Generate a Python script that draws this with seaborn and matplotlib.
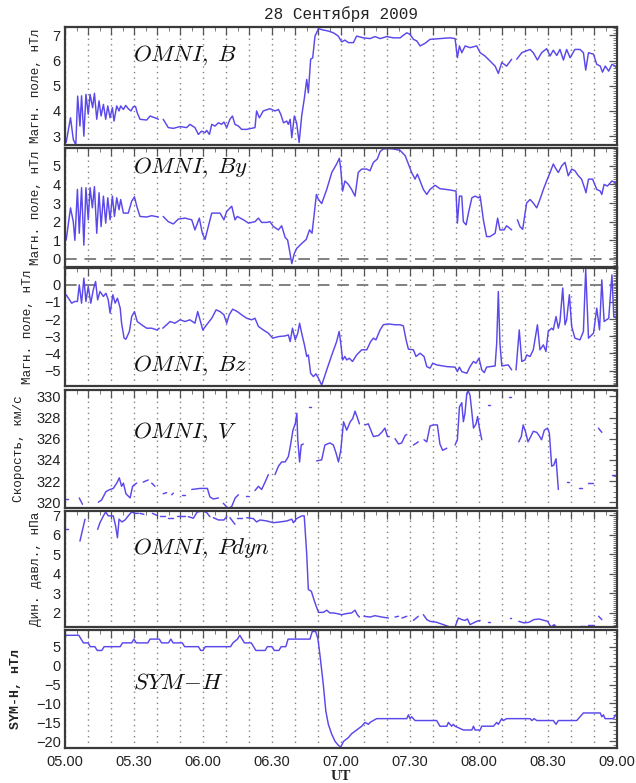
import numpy as np
import pandas as pd
import matplotlib
matplotlib.use("Agg")
import matplotlib.pyplot as plt
import seaborn as sns
from matplotlib.ticker import MultipleLocator, FuncFormatter

# ---------------- data (time in minutes after 05:00 UT; None = data gap) ----------------
b_data = [(0.5,2.75),(2.4,3.73),(3.6,2.87),(4.7,2.65),(5.5,4.59),(6.5,3.4),(7.2,4.6),(8.2,3.0),(9.1,4.66),(10.1,3.87),
          (10.9,4.66),(12.0,4.13),(12.8,4.7),(13.8,3.67),(14.8,4.4),(15.7,3.8),(16.7,4.26),(17.7,3.67),(18.6,4.2),(19.6,3.73),
          (20.6,4.13),(21.3,3.6),(22.5,4.2),(23.5,4.0),(24.2,4.2),(25.4,4.06),(26.4,4.22),(27.5,4.09),(28.7,4.0),(29.7,4.17),
          (30.7,4.17),(31.4,3.93),(32.6,3.67),(35.5,3.64),(37.0,3.8),(39.9,3.7),(40.6,3.67), None,
          (42.7,3.67),(44.9,3.34),(47.1,3.31),(50.0,3.38),(52.9,3.34),(54.3,3.47),(56.5,3.34),(58.0,3.07),(59.4,3.2),(60.9,3.14),
          (61.6,3.23),(62.8,3.07),(63.8,3.47),(65.2,3.4),(66.7,3.53),(68.1,3.47),(69.1,3.56),(70.3,3.34),(71.7,3.67),(72.8,3.8),
          (73.9,3.47),(75.4,3.4),(76.8,3.27),(79.0,3.27),(82.6,3.34),(83.3,4.0),(84.5,3.73),(86.2,4.0),(89.1,4.09),(91.3,4.0),
          (92.8,4.06),(93.8,3.87),(95.0,3.53),(96.4,3.6),(97.1,3.47),(97.9,3.67),(98.6,2.94),(99.7,3.8),(100.7,3.53),(101.8,2.75),
          (102.9,3.8),(104.0,4.46),(105.1,5.25),(105.8,4.72),(106.8,6.05),(107.7,6.11),(108.7,6.97),(110.2,7.26),(112.3,7.21),
          (114.5,7.17),(116.7,7.1),(118.8,6.97),(120.3,6.74),(121.7,6.81),(123.2,6.71),(125.4,6.71),(126.8,6.97),(129.7,6.9),
          (132.6,6.87),(134.8,6.95),(137.0,6.87),(139.9,6.95),(142.8,6.9),(145.7,6.9),(147.1,7.0),(148.6,7.1),(150.0,7.04),
          (151.5,6.84),(152.9,6.78),(154.4,6.58),(156.5,6.68),(158.7,6.84),(163.0,6.87),(167.4,6.9),(169.6,6.87),(170.6,6.11),
          (171.5,6.58),(172.5,6.31),(174.0,6.58),(176.1,6.51),(179.0,6.58),(180.5,6.31),(182.6,6.18),(184.8,5.98),(187.0,5.78),
          (188.4,5.49),(189.9,5.92),(192.0,5.78),(194.2,6.05), None,
          (196.4,6.05),(198.6,6.31),(202.2,6.44),(203.6,6.31),(205.4,6.02),(207.2,6.31),(209.4,6.47),(210.9,6.18),(212.3,6.41),
          (213.8,6.2),(215.2,6.44),(216.7,6.02),(218.1,6.44),(219.6,6.11),(221.7,6.44),(223.9,6.44),(225.4,6.31),(226.4,5.62),
          (227.6,6.31),(229.8,6.25),(231.2,5.85),(232.7,5.78),(233.7,5.54),(234.9,5.78),(236.4,5.58),(237.8,5.85),(239.3,5.78),
          (240.0,5.65)]

by_data = [(0.5,1.01),(2.4,2.74),(3.6,2.0),(4.3,1.0),(5.4,3.73),(6.2,1.38),(7.2,3.82),(8.2,0.74),(9.1,3.82),(10.1,2.1),
           (10.9,3.82),(11.9,2.74),(12.8,3.88),(13.8,1.38),(14.8,3.55),(15.7,1.74),(16.7,3.37),(17.7,1.92),(18.6,3.28),(19.6,2.1),
           (20.6,3.37),(21.5,2.28),(22.5,3.28),(23.5,2.64),(24.2,3.19),(25.4,2.46),(27.5,2.46),(29.0,3.1),(30.2,3.33),(31.2,2.83),
           (32.6,2.28),(35.5,2.25),(37.7,2.32),(40.6,2.25), None,
           (42.7,2.28),(44.9,2.0),(47.1,1.88),(49.3,2.14),(52.2,2.19),(55.1,2.1),(56.5,1.56),(58.4,2.19),(59.7,1.38),(60.9,1.05),
           (62.3,1.74),(63.8,2.46),(67.4,2.46),(69.1,2.1),(70.3,2.55),(72.5,2.83),(73.9,2.1),(74.9,2.28),(77.6,2.1),(79.8,1.92),
           (82.6,2.0),(84.1,2.19),(85.5,1.96),(87.7,1.96),(89.1,2.0),(90.6,1.74),(92.8,1.56),(94.2,1.78),(95.7,1.16),(96.8,1.01),
           (97.6,0.47),(98.6,-0.25),(99.7,0.29),(100.7,0.56),(102.9,0.83),(104.9,1.05),(106.3,1.56),(107.4,1.38),(108.4,2.46),
           (109.3,3.46),(110.2,3.19),(111.6,2.97),(113.8,3.73),(116.0,4.64),(118.1,5.09),(119.3,5.4),(119.9,4.82),(120.7,3.64),
           (121.7,4.18),(123.2,4.0),(124.6,3.73),(126.1,3.37),(127.5,4.64),(129.0,4.82),(131.2,4.82),(132.6,4.73),(134.1,5.18),
           (135.8,5.36),(137.0,5.76),(138.4,5.9),(140.6,5.92),(142.8,5.9),(145.7,5.82),(147.9,5.54),(149.3,5.09),(150.7,4.64),
           (152.2,4.28),(153.2,4.55),(154.4,4.18),(155.8,3.73),(157.3,3.46),(158.7,3.73),(160.9,3.95),(163.0,3.77),(167.4,3.7),
           (170.0,3.64),(170.6,1.92),(171.5,3.37),(172.5,3.37),(173.2,2.0),(174.4,1.83),(175.4,2.46),(176.9,3.28),(178.3,3.37),
           (179.8,3.28),(180.5,3.37),(181.9,2.1),(183.3,1.2),(184.8,1.2),(187.0,1.38),(188.1,2.19),(189.1,1.56),(190.9,1.56),
           (192.0,1.78),(194.2,1.56), None,
           (196.7,2.1),(197.8,1.74),(199.0,1.59),(200.7,3.0),(202.2,3.19),(203.6,3.0),(205.1,2.74),(206.5,3.19),(208.0,3.73),
           (209.4,4.18),(210.9,4.64),(212.3,5.09),(213.5,4.82),(214.5,4.64),(216.0,5.0),(217.4,5.18),(218.8,4.46),(220.3,4.82),
           (221.7,4.73),(223.2,4.46),(224.6,4.28),(226.1,3.73),(226.5,3.55),(227.6,4.28),(229.4,4.28),(231.2,3.73),(232.7,3.64),
           (233.4,3.46),(234.4,4.0),(235.8,3.91),(237.8,4.18),(239.3,4.09),(240.0,3.64)]

bz_data = [(0.5,-0.58),(2.9,-1.07),(4.3,-0.97),(5.4,-0.97),(6.2,0.0),(7.2,-1.07),(8.2,0.39),(9.1,-0.97),(10.1,-0.1),(11.2,-1.07),
           (12.3,-0.29),(13.3,0.19),(14.2,-0.88),(15.2,-0.39),(16.7,-0.68),(17.8,-0.49),(18.8,-0.88),(19.6,-1.65),(20.8,-0.58),
           (21.8,-1.07),(22.8,-0.78),(24.0,-1.36),(24.6,-2.24),(25.7,-3.11),(26.5,-3.17),(28.0,-2.72),(29.0,-1.85),(30.2,-1.56),
           (31.4,-2.14),(33.3,-2.33),(35.5,-2.53),(37.7,-2.53),(39.9,-2.63),(41.0,-2.53), None,
           (42.5,-2.53),(44.2,-2.33),(45.7,-2.14),(47.8,-2.24),(50.0,-2.04),(52.2,-2.14),(54.3,-2.04),(56.5,-2.24),(57.7,-1.56),
           (58.7,-2.04),(59.9,-2.63),(61.6,-2.33),(63.8,-1.95),(65.7,-1.46),(67.4,-1.56),(69.1,-1.75),(70.3,-2.24),(71.4,-1.75),
           (72.9,-1.42),(74.9,-1.56),(76.8,-1.75),(79.0,-1.95),(81.2,-2.04),(82.6,-1.95),(84.1,-2.43),(86.2,-2.63),(88.4,-2.82),
           (90.3,-3.11),(92.8,-3.02),(95.7,-2.98),(97.1,-2.92),(97.9,-3.31),(98.9,-2.53),(100.1,-3.21),(101.2,-2.82),(102.0,-2.24),
           (102.9,-2.82),(104.1,-3.5),(105.1,-4.18),(105.8,-4.09),(106.8,-5.16),(108.0,-5.35),(109.1,-5.19),(110.2,-5.45),
           (111.6,-5.85),(113.8,-4.96),(116.0,-4.09),(118.1,-3.31),(119.2,-2.72),(119.9,-3.4),(120.7,-4.38),(121.7,-4.18),
           (122.5,-4.38),(123.6,-4.28),(125.0,-4.47),(126.8,-4.09),(129.0,-3.79),(131.2,-3.79),(132.9,-3.31),(134.1,-3.11),
           (135.2,-3.21),(137.0,-2.63),(138.4,-2.33),(140.6,-2.28),(143.5,-2.33),(145.7,-2.33),(147.1,-2.39),(148.3,-3.21),
           (149.3,-3.75),(151.5,-3.79),(152.6,-4.18),(154.4,-3.99),(156.1,-4.18),(157.3,-4.77),(158.7,-4.86),(159.9,-4.57),
           (161.6,-4.67),(166.0,-4.77),(169.6,-4.8),(170.6,-5.06),(171.5,-4.8),(172.5,-5.06),(174.7,-5.16),(176.1,-4.77),
           (177.6,-4.47),(178.7,-4.57),(180.0,-4.28),(181.2,-4.96),(182.3,-5.12),(183.3,-4.8),(187.0,-4.73),(187.7,-3.4),
           (188.4,-0.39),(189.1,-3.4),(189.9,-4.73),(192.7,-4.67),(194.2,-4.96), None,
           (196.1,-4.96),(197.5,-2.63),(198.6,-4.47),(200.0,-4.38),(200.7,-4.09),(202.2,-4.18),(203.6,-3.79),(205.4,-2.33),
           (206.5,-3.79),(208.0,-3.5),(209.1,-3.89),(210.1,-2.72),(211.6,-2.53),(212.3,-2.63),(213.5,-1.85),(214.5,-2.53),
           (215.2,-2.14),(216.4,-0.19),(217.4,-2.33),(218.1,-2.04),(219.3,-0.58),(220.3,-2.43),(221.7,-3.11),(223.9,-3.21),
           (225.4,-2.72),(226.4,0.91),(227.6,-3.11),(229.8,-2.82),(231.2,-1.36),(232.4,-2.63),(233.4,0.29),(234.4,-2.14),
           (236.4,-1.95),(237.8,0.58),(238.6,-1.85),(239.7,-1.95),(240.0,0.0)]

v_data = [(0.0,320.3),(1.5,320.3), None,
          (6.2,320.4),(7.6,319.8), None,
          (14.5,320.0),(15.9,320.2),(17.8,321.0),(19.6,321.2),(21.0,321.3),(22.5,321.8),(23.6,322.3),(24.6,321.5),(25.4,321.8),
          (26.5,320.8),(28.3,320.4),(29.4,321.5),(30.4,321.7),(31.2,321.8), None,
          (34.0,321.9),(36.2,322.1), None,
          (37.7,321.8),(39.1,321.5), None,
          (42.7,320.8),(44.2,320.9), None,
          (46.4,320.7),(47.1,320.85), None,
          (50.8,320.7),(52.0,320.7), None,
          (55.1,321.2),(58.7,321.3),(61.9,321.3),(63.0,320.5),(64.5,320.3),(66.7,320.4), None,
          (68.8,319.9),(71.0,319.4),(72.5,319.6),(74.0,320.4),(75.4,320.7), None,
          (78.5,320.6),(79.5,320.6), None,
          (82.6,321.1),(84.1,321.5),(85.5,321.2),(87.0,321.9),(88.4,322.6), None,
          (91.3,322.6),(92.8,323.4),(94.2,323.8),(95.7,323.8),(97.1,324.3),(97.9,325.2),(99.1,326.8),(100.1,327.4),(100.8,328.4),
          (101.2,325.9),(102.0,323.8),(102.7,325.4),(103.6,325.5), None,
          (106.2,329.0),(106.8,329.0), None,
          (109.4,323.9),(111.6,324.0),(113.0,325.4),(115.2,325.6),(116.7,325.4),(117.9,324.6),(118.9,323.8),(119.9,324.9),
          (121.1,327.6),(122.5,326.8),(124.0,327.6),(125.1,327.9),(126.1,328.6),(127.1,328.0),(128.0,327.4), None,
          (130.4,327.3),(131.9,327.4),(132.6,327.0),(134.1,326.2),(136.3,326.3),(137.7,326.6),(139.1,327.0),(140.2,326.2),
          (141.0,326.2), None,
          (143.5,326.0),(145.0,325.5),(146.4,325.6),(147.9,326.3),(148.6,326.4), None,
          (151.5,325.4),(153.6,325.7), None,
          (156.1,325.9),(157.3,325.7),(158.7,327.2),(160.2,327.3),(161.9,327.3),(163.0,325.5),(164.2,324.9),(166.0,325.1), None,
          (169.6,325.4),(170.6,325.9),(171.5,329.0),(172.5,329.4),(173.2,327.6),(173.9,328.4),(174.7,330.3),(175.4,330.5),
          (176.1,330.1),(176.8,328.7),(177.6,327.0),(178.7,327.4),(179.4,328.1),(180.1,327.1),(181.2,325.9), None,
          (184.0,329.2),(184.8,329.2), None,
          (193.2,329.9),(193.9,329.9), None,
          (197.3,325.7),(198.4,326.2),(199.2,327.3),(200.3,326.6),(201.3,325.7),(202.5,326.2),(203.6,326.7),(205.1,326.6),
          (206.1,326.3),(207.2,325.9),(208.4,326.8),(209.8,327.0),(210.6,326.5),(211.6,323.4),(212.5,323.5),(213.5,324.1),
          (214.5,321.2), None,
          (218.2,321.9),(219.0,321.9), None,
          (223.6,321.3),(224.9,321.3), None,
          (227.5,321.8),(229.7,321.8), None,
          (231.9,327.0),(233.4,326.6), None,
          (237.8,322.6),(239.6,322.6)]

pdyn_data = [(0.0,6.28),(1.4,6.28), None,
             (6.5,5.68),(8.7,6.8), None,
             (14.2,6.28),(15.2,6.62),(16.7,6.97),(17.7,7.17),(18.8,6.97),(21.0,6.97),(22.0,6.45),(22.8,5.85),(23.5,6.8),
             (24.7,6.66),(26.1,6.76),(27.5,6.97),(29.0,7.17),(30.4,7.1),(31.9,7.1), None,
             (32.6,7.1),(34.3,7.05), None,
             (38.0,7.1),(39.9,7.0), None,
             (41.3,6.97),(43.5,6.97), None,
             (44.9,6.88),(47.1,6.88), None,
             (48.5,6.97),(52.2,6.97), None,
             (53.6,6.93),(55.8,6.85),(57.5,7.17),(60.1,7.22),(61.6,7.14),(63.0,6.93), None,
             (64.5,6.88),(66.7,6.76),(69.1,6.76),(70.3,6.93), None,
             (71.7,6.88),(73.9,6.54), None,
             (74.9,6.88),(76.8,6.88), None,
             (79.0,6.88),(81.9,6.83),(83.3,6.66),(84.8,6.76),(87.7,6.71),(90.6,6.62),(93.5,6.66),(96.4,6.71),(98.6,6.8),
             (99.3,6.62),(100.7,6.83),(102.9,6.97),(104.0,6.97),(104.3,6.45),(105.1,5.0),(105.8,3.2),(107.1,3.11),(108.6,2.55),
             (110.2,2.03),(112.3,2.03),(113.8,2.14),(115.2,2.0),(116.7,2.0),(118.1,1.97),(120.3,1.91),(122.5,1.97),(124.6,2.0),
             (126.1,2.14),(127.1,1.91),(128.0,1.79), None,
             (130.0,1.83),(132.6,1.79),(134.8,1.86),(137.7,1.79),(140.6,1.74), None,
             (143.5,1.79),(145.0,1.83), None,
             (146.5,1.74),(148.6,1.83), None,
             (151.5,1.62),(153.6,1.83), None,
             (155.8,1.91),(157.3,1.66),(158.7,1.57),(161.6,1.52),(164.5,1.4),(166.7,1.31), None,
             (169.6,1.28),(171.0,1.74),(172.5,1.66),(173.9,1.62),(175.0,1.69),(176.1,1.4),(177.6,1.49),(179.0,1.57),(180.5,1.62), None,
             (184.0,1.52),(184.8,1.52), None,
             (193.3,1.74),(193.8,1.74), None,
             (197.3,1.57),(199.5,1.49),(201.7,1.52),(203.9,1.66),(206.1,1.69),(208.3,1.62),(209.8,1.57),(211.3,1.28),(212.7,1.4),
             (213.9,1.23), None,
             (218.2,1.28),(219.0,1.28), None,
             (223.9,1.31),(226.1,1.31), None,
             (227.5,1.4),(229.8,1.4), None,
             (232.0,1.83),(233.4,1.66), None,
             (239.0,1.66),(240.0,1.66)]

symh_data = [(0,8),(6,8),(7,7),(8,6),(10,6),(11,5),(13,5),(14,4),(16,4),(17,5),(24,5),(25,6),(29,6),(30,7),(31,6),(36,6),
             (37,7),(41,7),(42,6),(45,6),(46,7),(47,6),(51,6),(52,5),(58,5),(59,4),(60,4),(61,5),(72,5),(73,6),(75,7),(76,8),
             (77,7),(78,6),(81,6),(82,5),(83,4),(87,4),(88,5),(90,5),(91,4),(93,4),(94,5),(96,5),(97,7),(106.5,7),(107.5,9),
             (109,9),(110,7),(111,2),(112.3,-5),(113.4,-12),(114.5,-15.5),(115.9,-18),(117.4,-20),(118.8,-21),(119.9,-21.5),
             (121.1,-20),(123.2,-19),(124.6,-18),(126.8,-17),(129,-16),(130.4,-15),(131.9,-15.5),(132.6,-15),(135.5,-14),
             (148.6,-14),(149.3,-13),(150,-14),(150.7,-13.5),(152.2,-14.5),(161.6,-14.5),(163,-16),(166,-16),(166.7,-15),
             (168.1,-16),(168.8,-15.5),(169.6,-16),(173.2,-17),(176.9,-17),(177.6,-16),(178.3,-17),(180.5,-17),(181.2,-16),
             (186.3,-16),(187.7,-15),(188.4,-15.5),(189.9,-14),(190.6,-14.5),(192,-14),(202.2,-14),(203,-14.5),(204,-14),
             (205.1,-14.5),(212.3,-14.5),(213.5,-15.5),(214.5,-14.5),(222.5,-14.5),(225.4,-12.5),(232.7,-12.5),(233.4,-13.5),
             (234.1,-13),(234.8,-14),(238.5,-14),(239.3,-13),(240,-13.5)]

title_text = "28 Сентября 2009"
panel_names = [r"$OMNI,\;B$", r"$OMNI,\;By$", r"$OMNI,\;Bz$", r"$OMNI,\;V$", r"$OMNI,\;Pdyn$", r"$SYM\!-\!H$"]
ylabels = ["Магн. поле, нТл", "Магн. поле, нТл", "Магн. поле, нТл", "Скорость, км/с", "Дин. давл., нПа", "SYM-H, нТл"]
xtick_labels = ["05.00", "05.30", "06.00", "06.30", "07.00", "07.30", "08.00", "08.30", "09.00"]


def to_frame(pairs):
    rows, seg = [], 0
    for p in pairs:
        if p is None:
            seg += 1
            continue
        rows.append((p[0], p[1], seg))
    return pd.DataFrame(rows, columns=["t", "v", "seg"])


series = [b_data, by_data, bz_data, v_data, pdyn_data, symh_data]

# ---------------- style ----------------
sns.set_theme(style="white")
plt.rcParams["font.family"] = ["Liberation Sans", "DejaVu Sans"]
plt.rcParams["mathtext.fontset"] = "cm"

LINE = "#5a48ea"
FRAME = "#3a3a3a"

fig = plt.figure(figsize=(6.36, 7.83), dpi=100)
W, H = 636.0, 783.0
left_px, right_px = 65, 617
panels_px = [(27, 145), (148, 267), (268, 386), (390, 508), (511, 627), (630, 748)]
ylims = [(2.65, 7.33), (-0.43, 5.95), (-5.9, 0.98), (319.45, 330.6), (1.28, 7.22), (-21.75, 9.4)]
ymajor = [1, 1, 1, 2, 1, 5]
yminor = [0.1, 0.1, 0.1, 0.5, 0.1, 1]
text_pos = [0.76, 0.84, 0.18, 0.64, 0.68, 0.56]
ylab_x = [37, 37, 29, 20, 37, 17]
zero_line = [False, True, True, False, False, False]


def fmt_time(x, pos):
    m = int(round(x))
    if m % 30 != 0:
        return ""
    idx = m // 30
    return xtick_labels[idx] if 0 <= idx < len(xtick_labels) else ""


axes = []
for i, (top, bot) in enumerate(panels_px):
    ax = fig.add_axes([left_px / W, 1 - bot / H, (right_px - left_px) / W, (bot - top) / H])
    axes.append(ax)
    df = to_frame(series[i])
    ax.xaxis.set_major_locator(MultipleLocator(10))
    ax.xaxis.set_minor_locator(MultipleLocator(5))
    ax.grid(True, axis="x", which="major", linestyle=(0, (1, 3)), color="#808080", linewidth=1.0)
    ax.grid(False, axis="y")
    if zero_line[i]:
        ax.axhline(0, color="#808080", linestyle=(0, (6, 4)), linewidth=1.4, zorder=1)
    sns.lineplot(data=df, x="t", y="v", units="seg", estimator=None, color=LINE,
                 linewidth=1.05, ax=ax, legend=False, sort=False)
    ax.set_xlim(0, 240)
    ax.set_ylim(*ylims[i])
    ax.yaxis.set_major_locator(MultipleLocator(ymajor[i]))
    ax.yaxis.set_minor_locator(MultipleLocator(yminor[i]))
    ax.tick_params(axis="both", which="major", direction="in", length=6, width=0.9,
                   color="#555555", top=True, right=True, labelsize=10.5, labelcolor="#222222", pad=3)
    ax.tick_params(axis="both", which="minor", direction="in", length=3, width=0.7,
                   color="#777777", top=True, right=True)
    ax.xaxis.set_major_formatter(FuncFormatter(fmt_time))
    if i < 5:
        ax.tick_params(axis="x", labelbottom=False)
    for s in ax.spines.values():
        s.set_color(FRAME)
        s.set_linewidth(1.6)
    ax.set_xlabel("")
    ylab_kw = dict(fontsize=9.2, family=["Liberation Mono", "DejaVu Sans Mono"], color="#222222")
    if i == 5:
        ylab_kw.update(fontsize=9.5, fontweight="bold")
    ax.set_ylabel(ylabels[i], **ylab_kw)
    ax.yaxis.set_label_coords((ylab_x[i] + 5 - left_px) / (right_px - left_px), 0.5)
    ax.text(0.123, text_pos[i], panel_names[i], transform=ax.transAxes, fontsize=16.5,
            va="center", ha="left", color="#111111")

axes[-1].set_xlabel("UT", fontsize=10.5, fontweight="bold", family=["Liberation Serif", "DejaVu Serif"],
                    labelpad=1, color="#222222")
axes[-1].tick_params(axis="x", labelsize=10.5, pad=5)

fig.text((left_px + right_px) / 2 / W, 1 - 14 / H, title_text, ha="center", va="center",
         fontsize=11.5, family=["Liberation Mono", "DejaVu Sans Mono"], color="#222222")

fig.savefig("out.png", dpi=100)
